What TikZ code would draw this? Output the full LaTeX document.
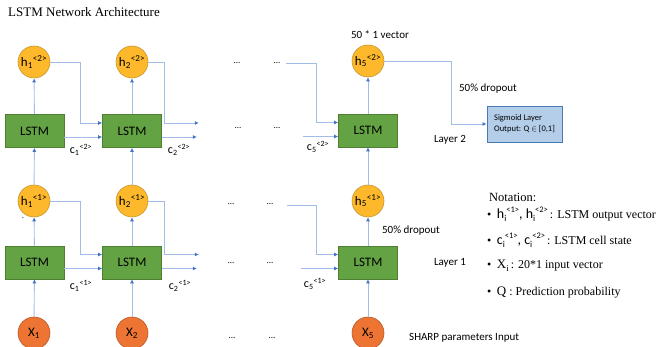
\documentclass[tikz,border=0pt]{standalone}
\usepackage{fontspec}
\setmainfont{Liberation Serif}
\newfontfamily\calfont{Carlito}
\usetikzlibrary{arrows.meta,calc}

\definecolor{hfill}{HTML}{FDB92B}
\definecolor{hdraw}{HTML}{C9962C}
\definecolor{gfill}{HTML}{63A343}
\definecolor{gdraw}{HTML}{4E7F33}
\definecolor{xfill}{HTML}{ED7433}
\definecolor{xdraw}{HTML}{B8582A}
\definecolor{lineblue}{HTML}{A3BEE6}
\definecolor{tipblue}{HTML}{4472C4}
\definecolor{sigfill}{HTML}{B4CEEA}
\definecolor{sigdraw}{HTML}{4A79B8}

% small raised / lowered indices for the notation list
\newcommand{\smsup}[1]{\raisebox{0.42em}{\fontsize{8.5}{9}\selectfont #1}}
\newcommand{\smsub}[1]{\raisebox{-0.22em}{\fontsize{9}{10}\selectfont #1}}
\newcommand{\notehfont}{\calfont\fontsize{14}{15}\selectfont}

\tikzset{
  hnode/.style={circle, fill=hfill, draw=hdraw, line width=0.6pt, minimum size=32pt, inner sep=0pt, font=\calfont\fontsize{13}{14}\selectfont},
  xnode/.style={circle, fill=xfill, draw=xdraw, line width=0.6pt, minimum size=32pt, inner sep=0pt, font=\calfont\fontsize{13}{14}\selectfont},
  lstmbox/.style={rectangle, fill=gfill, draw=gdraw, line width=0.6pt, minimum width=59pt, minimum height=33pt, inner sep=0pt, font=\calfont\fontsize{13}{14}\selectfont},
  conn/.style={draw=lineblue, line width=0.9pt, -{Latex[length=4pt,width=4pt,color=tipblue]}},
  lbl/.style={font=\calfont\fontsize{11}{12}\selectfont, inner sep=0pt},
  clbl/.style={font=\calfont\fontsize{12}{13}\selectfont, inner sep=0pt},
  dots/.style={font=\calfont\fontsize{9}{10}\selectfont, inner sep=0pt},
  note/.style={font=\fontsize{12}{14}\selectfont, inner sep=0pt, anchor=west},
}

\begin{document}
\begin{tikzpicture}[x=1pt, y=-1pt]
\useasboundingbox (0,0) rectangle (672,347);
\clip (0,0) rectangle (672,347);

% title
\node[anchor=base west, inner sep=0pt, font=\fontsize{13}{15}\selectfont] (title) at (8,17) {LSTM Network Architecture};

% layer 2 outputs
\node[hnode] (h12) at (34,62) {h\textsubscript{1}\textsuperscript{<2>}};
\node[hnode] (h22) at (132,62) {h\textsubscript{2}\textsuperscript{<2>}};
\node[hnode] (h52) at (368,61) {h\textsubscript{5}\textsuperscript{<2>}};

% layer 2 cells
\node[lstmbox] (L12) at (34.5,131) {LSTM};
\node[lstmbox] (L22) at (132,131) {LSTM};
\node[lstmbox] (L52) at (368,130.5) {LSTM};

% layer 1 outputs
\node[hnode] (h11) at (34,201) {h\textsubscript{1}\textsuperscript{<1>}};
\node[hnode] (h21) at (132,201) {h\textsubscript{2}\textsuperscript{<1>}};
\node[hnode] (h51) at (368,201) {h\textsubscript{5}\textsuperscript{<1>}};

% layer 1 cells
\node[lstmbox] (L11) at (34.5,262.5) {LSTM};
\node[lstmbox] (L21) at (132,262.5) {LSTM};
\node[lstmbox] (L51) at (368,262.5) {LSTM};

% inputs
\node[xnode] (x1) at (34,333) {X\textsubscript{1}};
\node[xnode] (x2) at (132,333) {X\textsubscript{2}};
\node[xnode] (x5) at (368,333) {X\textsubscript{5}};

% sigmoid output layer
\node[rectangle, fill=sigfill, draw=sigdraw, line width=0.9pt, minimum width=75pt, minimum height=36pt, align=left, font=\calfont\fontsize{8.5}{11}\selectfont] (sig) at (524.5,124) {Sigmoid Layer\\Output: Q \ensuremath{\in} [0,1]};

% vertical flow
\foreach \c in {1,2,5}{
  \draw[conn] (x\c) -- (L\c1);
  \draw[conn] (L\c1) -- (h\c1);
  \draw[conn] (h\c1) -- (L\c2);
  \draw[conn] (L\c2) -- (h\c2);
}

% recurrent connections, layer 2
\draw[conn] (h12.east) -- ++(30,0) |- ([yshift=8pt]L22.west);
\draw[conn] ([yshift=-6pt]L12.east) -- ([yshift=-6pt]L22.west);
\coordinate (o22h) at ([xshift=37pt,yshift=8pt]L22.east);
\coordinate (o22c) at ([xshift=35pt,yshift=-6pt]L22.east);
\draw[conn] (h22.east) -- ++(16,0) |- (o22h);
\draw[conn] ([yshift=-6pt]L22.east) -- (o22c);
\coordinate (i52h) at (286,63);
\coordinate (i52c) at ([xshift=-35pt,yshift=-6pt]L52.west);
\draw[conn] (i52h) -- ++(30,0) |- ([yshift=8pt]L52.west);
\draw[conn] (i52c) -- ([yshift=-6pt]L52.west);

% recurrent connections, layer 1
\draw[conn] (h11.east) -- ++(30,0) |- ([yshift=8pt]L21.west);
\draw[conn] ([yshift=-6pt]L11.east) -- ([yshift=-6pt]L21.west);
\coordinate (o21h) at ([xshift=37pt,yshift=8pt]L21.east);
\coordinate (o21c) at ([xshift=35pt,yshift=-6pt]L21.east);
\draw[conn] (h21.east) -- ++(16,0) |- (o21h);
\draw[conn] ([yshift=-6pt]L21.east) -- (o21c);
\coordinate (i51h) at (287,205);
\coordinate (i51c) at ([xshift=-37pt,yshift=-6pt]L51.west);
\draw[conn] (i51h) -- ++(29,0) |- ([yshift=8pt]L51.west);
\draw[conn] (i51c) -- ([yshift=-6pt]L51.west);

% final output to sigmoid layer
\draw[conn] (h52.east) -- ++(67,0) |- (sig.west);

% cell state labels
\node[clbl] (c12) at (81,150) {c\textsubscript{1}\textsuperscript{<2>}};
\node[clbl] (c22) at (179,150) {c\textsubscript{2}\textsuperscript{<2>}};
\node[clbl] (c52) at (318,147) {c\textsubscript{5}\textsuperscript{<2>}};
\node[clbl] (c11) at (81,286) {c\textsubscript{1}\textsuperscript{<1>}};
\node[clbl] (c21) at (180,286) {c\textsubscript{2}\textsuperscript{<1>}};
\node[clbl] (c51) at (315,284) {c\textsubscript{5}\textsuperscript{<1>}};

% ellipses
\node[dots] (d1) at (237,63) {...};
\node[dots] (d2) at (277,63) {...};
\node[dots] (d3) at (238,128) {...};
\node[dots] (d4) at (277,128) {...};
\node[dots] (d5) at (231,204) {...};
\node[dots] (d6) at (270,204) {...};
\node[dots] (d7) at (231,263) {...};
\node[dots] (d8) at (270,263) {...};
\node[dots] (d9) at (232,338) {...};
\node[dots] (d10) at (272,338) {...};

% annotations
\node[lbl] (vec) at (380,35) {50 * 1 vector};
\node[lbl] (drop2) at (488,89) {50\% dropout};
\node[lbl] (lay2) at (450,140) {Layer 2};
\node[lbl] (drop1) at (411,231) {50\% dropout};
\node[lbl] (lay1) at (450,263) {Layer 1};
\node[lbl, anchor=west] (sharp) at (409,338) {SHARP parameters Input};
\node[inner sep=0pt, font=\fontsize{9}{10}\selectfont] (dot) at (23,218) {.};

% notation
\node[note, font=\fontsize{12.5}{14}\selectfont] (nt) at (489,197) {Notation:};
\node[note] (n1) at (487,214) {\textbullet\hspace{5.5pt}{\notehfont h\smsub{i}\smsup{<1>}, h\smsub{i}\smsup{<2>}}\,: LSTM output vector};
\node[note] (n2) at (487,240) {\textbullet\hspace{5.5pt}{\notehfont c\smsub{i}\smsup{<1>}, c\smsub{i}\smsup{<2>}}\,: LSTM cell state};
\node[note] (n3) at (487,266) {\textbullet\hspace{5.5pt}{\fontsize{13}{14}\selectfont X}\smsub{i}\,: 20*1 input vector};
\node[note] (n4) at (487,292) {\textbullet\hspace{5.5pt}{\fontsize{13}{14}\selectfont Q} : Prediction probability};
\end{tikzpicture}
\end{document}
